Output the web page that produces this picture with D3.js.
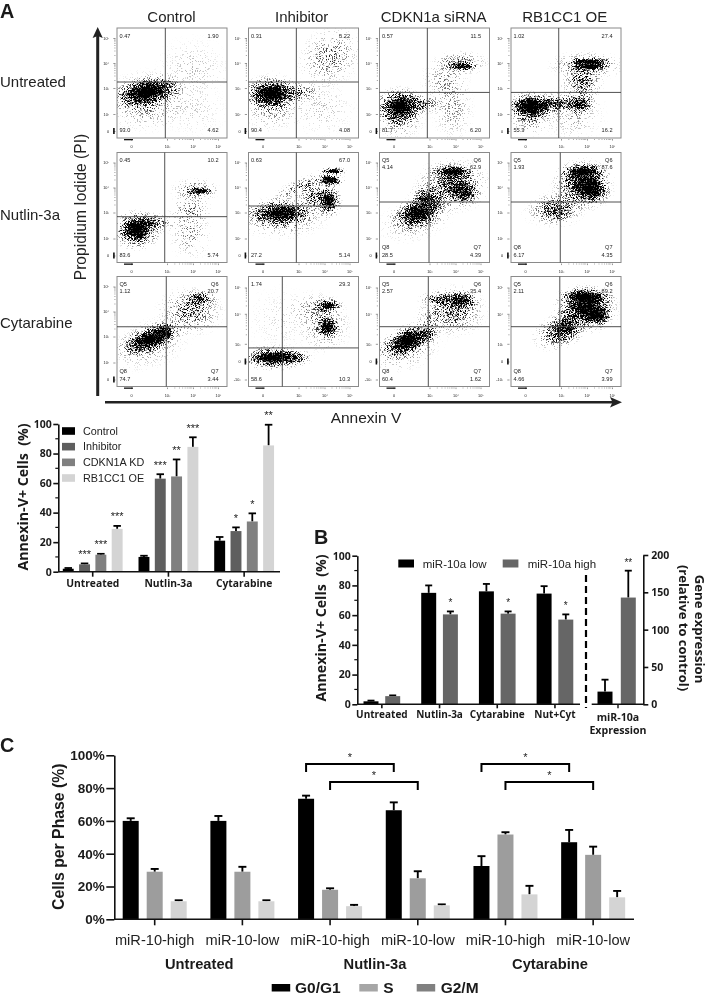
<!DOCTYPE html>
<html><head><meta charset="utf-8">
<script src="https://cdn.jsdelivr.net/npm/d3@7"></script>
<style>
html,body{margin:0;padding:0;background:#fff}
svg{display:block;filter:blur(.35px)}
text{font-family:"Liberation Sans",Arial,sans-serif;fill:#222}
.ob{font-family:"Open Sans",sans-serif;font-weight:700;fill:#1a1a1a}
.lb{font-family:"Liberation Sans",Arial,sans-serif;font-weight:700;fill:#1a1a1a}
</style></head><body><svg id="c" width="707" height="996"></svg>
<script>
// ---------- Panel A flow cytometry data ----------
const flowCols = ["Control","Inhibitor","CDKN1a siRNA","RB1CC1 OE"];
const flowRows = ["Untreated","Nutlin-3a","Cytarabine"];
const quadUL = [["0.47","0.31","0.57","1.02"],["0.45","0.63","4.14","1.93"],["1.12","1.74","2.57","2.11"]];
const quadUR = [["1.90","5.22","11.5","27.4"],["10.2","67.0","62.9","87.6"],["20.7","29.3","35.4","89.2"]];
const quadLL = [["93.0","90.4","81.7","55.3"],["83.6","27.2","28.5","6.17"],["74.7","58.6","60.4","4.66"]];
const quadLR = [["4.62","4.08","6.20","16.2"],["5.74","5.14","4.39","4.35"],["3.44","10.3","1.62","3.99"]];
const showQ  = [[0,0,0,0],[0,0,1,1],[1,0,1,1]];
const altAxis= [[0,0,0,0],[0,0,0,0],[0,1,1,1]];
// gates in decade units (x, then y)
const gateX = [[2.86,2.82,2.82,2.81],[2.81,2.82,2.96,2.94],[2.94,1.65,2.9,2.9]];
const gateY = [[3.24,3.24,2.83,2.83],[2.84,3.26,3.42,3.42],[3.39,2.3,3.57,3.57]];
// population clouds: [x, y, spreadX, spreadY, tilt, density] in decade units
const flowClouds = [
 [
  [[1.3,2.85,1.25,.55,-12,1],[1.2,2.5,1.4,1.05,0,.32],[3.0,2.95,.7,.4,0,.28],[4.0,3.8,1.3,1.1,0,.1],[4.0,2.2,1.2,1,0,.08]],
  [[.77,2.8,1.05,.58,0,1],[.8,2.45,1.1,1,0,.32],[3.1,2.85,.75,.35,0,.34],[4.22,4.25,1.2,1,-40,.3],[3.9,2.2,1.2,1,0,.1]],
  [[.5,2.3,.85,.65,0,1],[.5,1.9,.9,.9,0,.35],[2.4,2.4,.8,.35,0,.38],[4.3,3.85,.55,.14,0,.85],[4.2,4,.95,.42,0,.42],[3.6,3.3,.85,.75,0,.22],[3.9,2.2,.75,1.1,0,.2]],
  [[.42,2.3,.85,.5,0,1],[2.5,2.4,1,.38,0,.62],[3.75,2.4,.55,.42,0,.72],[.5,2,.85,.75,0,.38],[4.12,4.05,.8,.16,0,1],[4.12,3.85,.7,.14,0,1],[4,3.9,1.3,.5,0,.42],[3.8,3.2,.75,.62,0,.5],[3.5,2,1.1,1,0,.16]]
 ],[
  [[.47,2.33,.85,.68,0,1],[1.7,2.6,.9,.35,0,.5],[4.28,3.86,.55,.14,0,.8],[4.1,3.9,.85,.42,0,.36],[3.9,3.1,.75,.62,0,.26],[3.9,2.2,.75,.95,0,.22]],
  [[1.46,2.97,1.25,.5,0,.88],[1.6,2.8,1.6,.72,0,.32],[4.35,4.66,.48,.14,0,1],[4.22,4.3,.52,.25,0,1],[4.15,3.46,.48,.6,0,.9],[3.06,4.03,1.2,.3,-25,.34],[3.6,3.65,.62,.62,0,.42]],
  [[2.07,3,1,.55,-20,.88],[2,2.8,1.35,.75,-20,.32],[3.9,4.63,.8,.27,0,.95],[3.9,4.1,1.25,.92,0,.62],[4.38,3.77,.52,.42,0,.72],[2.75,3.58,.62,.52,0,.58]],
  [[2.65,3.13,.95,.6,0,.55],[3.85,4.63,.85,.32,0,1],[3.85,4.1,1.05,.88,0,.82],[4.25,3.9,.58,.52,0,.82],[1.8,3,.9,.5,0,.12]]
 ],[
  [[1.58,2.9,1.2,.48,-20,1],[2.7,3.17,.42,.38,0,.72],[1.6,2.7,1.45,.85,-20,.22],[4.28,4.5,.62,.32,0,.58],[3.9,4,1.15,.85,0,.42]],
  [[.9,.63,1.15,.42,0,1],[2.7,.65,.65,.3,0,.5],[4.15,4.32,.52,.27,0,.88],[4.14,3.55,.44,.42,0,.92],[3.6,4.2,1,.62,0,.2],[4,3.6,.95,.95,0,.26],[1.5,3.8,1.3,1.2,0,.06]],
  [[1.14,3.11,1.05,.5,-25,1],[1.1,2.3,1.35,.75,-20,.28],[2.8,3.33,.42,.38,0,.42],[4.27,4.5,.62,.38,0,.72],[3.5,4.57,.85,.27,0,.52],[3.9,4.1,1.15,.88,0,.46],[3,3.8,.52,.52,0,.22]],
  [[2.83,3.39,.95,.6,-20,.55],[3.96,4.63,1,.37,0,1],[3.96,4.19,1.1,.82,0,.88],[4.43,3.95,.52,.42,0,.95],[3.2,3.6,.62,.62,0,.6]]
 ]
];
const flowXTicks = [0,3,4,5];
const flowXLabels = ["0","10³","10⁴","10⁵"];
const flowYTicks = [0,2,3,4,5];
const flowYLabels = ["0","10²","10³","10⁴","10⁵"];
const flowYTicksAlt = [-1,0,3,4,5];
const flowYLabelsAlt = ["-10³","0","10³","10⁴","10⁵"];
const decadeMinor = [.3,.48,.6,.7,.78,.85,.9,.95];

// ---------- Panel A bars ----------
const aGroups = ["Untreated","Nutlin-3a","Cytarabine"];
const aSeries = ["Control","Inhibitor","CDKN1A KD","RB1CC1 OE"];
const aColors = ["#000000","#5f5f5f","#808080","#d4d4d4"];
const aValues = [[2,10,21],[5,63,27.5],[11.5,64.5,34],[29,84.5,85.5]];
const aErrors = [[.5,.8,2.5],[.6,3,2.5],[.6,11.5,5.5],[2,6.5,14]];
const aStars  = [["","",""],["***","***","*"],["***","**","*"],["***","***","**"]];
const aYTicks = [0,20,40,60,80,100];

// ---------- Panel B bars ----------
const bGroups = ["Untreated","Nutlin-3a","Cytarabine","Nut+Cyt"];
const bSeries = ["miR-10a low","miR-10a high"];
const bColors = ["#000000","#666666"];
const bValues = [[2,75,76,74.5],[5.5,60.5,61,57]];
const bErrors = [[.5,5,5,5],[.5,2,1.5,3.5]];
const bStars  = [["","","",""],["","*","*","*"]];
const bExprValues = [17,143];
const bExprErrors = [16,36];
const bExprStars = ["","**"];
const bYTicks = [0,20,40,60,80,100];
const bY2Ticks = [0,50,100,150,200];

// ---------- Panel C bars ----------
const cGroups = ["Untreated|high","Untreated|low","Nutlin|high","Nutlin|low","Cytarabine|high","Cytarabine|low"];
const cLabels = ["miR-10-high","miR-10-low","miR-10-high","miR-10-low","miR-10-high","miR-10-low"];
const cSeries = ["G0/G1","S","G2/M"];
const cColors = ["#000000","#9d9d9d","#d4d4d4"];
const cLegendColors = ["#000000","#a6a6a6","#808080"];
const cValues = [[60,60,73.5,66.5,32.5,47],[29,29,18,25,51.7,39.3],[11,11,8,8.5,15.2,13.4]];
const cErrors = [[1.6,3,1.9,4.8,6,7.5],[1.7,3,.9,4.3,1.4,5],[.6,.6,.8,.6,5.2,3.9]];
const cYTicks = [0,20,40,60,80,100];
const cBrackets = [[2,3,0],[2,3,1],[4,5,0],[4,5,1]]; // from group, to group, level
const cSections = ["Untreated","Nutlin-3a","Cytarabine"];

// ---------- Drawing ----------
const svg = d3.select("#c");
const defs = svg.append("defs");
const grad = defs.append("radialGradient").attr("id","blob");
d3.range(0,1.001,.1).forEach(r=>{
  const a=Math.max(0,(Math.exp(-r*r/(2*.4*.4))-Math.exp(-1/(2*.4*.4)))/(1-Math.exp(-1/(2*.4*.4))));
  grad.append("stop").attr("offset",r).attr("stop-color","#000").attr("stop-opacity",a);
});

const colX=[117,248.5,379.5,511], rowY=[28,152.5,276.5], boxW=110, boxH=110;
const fx = d3.scaleLinear().domain([0,3,4,5]).range([14,50,76,101]);
const fy = d3.scaleLinear().domain([0,2,3,4,5]).range([103,86,60,35,10]);
const fyAlt = d3.scaleLinear().domain([-1,0,3,4,5]).range([103,85,67.3,37.3,11]);
const decadePx = 25*1.3;

flowRows.forEach((rowName,r)=>{
 flowCols.forEach((colName,c)=>{
  const id=`p${r}${c}`, alt=altAxis[r][c], Y=alt?fyAlt:fy;
  const g=svg.append("g").attr("transform",`translate(${colX[c]},${rowY[r]})`);
  defs.append("clipPath").attr("id","clip"+id).append("rect").attr("width",boxW).attr("height",boxH);
  const f=defs.append("filter").attr("id","f"+id).attr("filterUnits","userSpaceOnUse").attr("x",0).attr("y",0).attr("width",boxW).attr("height",boxH).attr("color-interpolation-filters","sRGB");
  f.append("feTurbulence").attr("type","fractalNoise").attr("baseFrequency",1.6).attr("numOctaves",1).attr("seed",3+r*4+c).attr("result","n");
  f.append("feColorMatrix").attr("in","n").attr("type","matrix").attr("values","0 0 0 0 0  0 0 0 0 0  0 0 0 0 0  3.4 0 0 0 -1.2").attr("result","na");
  f.append("feComposite").attr("in","SourceAlpha").attr("in2","na").attr("operator","arithmetic").attr("k1",0).attr("k2",1.55).attr("k3",1).attr("k4",-1).attr("result","m");
  const tr=f.append("feComponentTransfer").attr("in","m").attr("result","h");
  tr.append("feFuncA").attr("type","linear").attr("slope",1.9).attr("intercept",0);
  f.append("feGaussianBlur").attr("in","h").attr("stdDeviation",.2);
  g.append("g").attr("clip-path",`url(#clip${id})`).append("g").attr("filter",`url(#f${id})`)
   .selectAll("ellipse").data(flowClouds[r][c]).join("ellipse")
   .attr("rx",d=>d[2]*decadePx).attr("ry",d=>d[3]*decadePx)
   .attr("transform",d=>`translate(${fx(d[0])},${Y(d[1])}) rotate(${d[4]})`)
   .attr("fill","url(#blob)").attr("fill-opacity",d=>d[5]);
  g.append("rect").attr("width",boxW).attr("height",boxH).attr("fill","none").attr("stroke","#8a8a8a").attr("stroke-width",1);
  g.append("line").attr("x1",fx(gateX[r][c])).attr("x2",fx(gateX[r][c])).attr("y1",0).attr("y2",boxH).attr("stroke","#3c3c3c").attr("stroke-width",.9);
  g.append("line").attr("x1",0).attr("x2",boxW).attr("y1",Y(gateY[r][c])).attr("y2",Y(gateY[r][c])).attr("stroke","#3c3c3c").attr("stroke-width",.9);
  // quadrant text
  const qt=(t,x,y,a)=>g.append("text").attr("x",x).attr("y",y).attr("text-anchor",a).attr("font-size",5.6).attr("fill","#333").text(t);
  if(showQ[r][c]){qt("Q5",2.5,9.5,"start");qt("Q6",101.5,9.5,"end");qt("Q8",2.5,96,"start");qt("Q7",101.5,96,"end");}
  const up=showQ[r][c]?16.5:9.5;
  qt(quadUL[r][c],2.5,up,"start");
  qt(quadUR[r][c],101.5,up,"end").attr("paint-order","stroke").attr("stroke","#fff").attr("stroke-width",showQ[r][c]?1.4:0);
  qt(quadLL[r][c],2.5,104,"start");
  qt(quadLR[r][c],101.5,104,"end");
  // axes
  const ax=g.append("g").attr("transform",`translate(0,${boxH+1})`);
  ax.call(d3.axisBottom(fx).tickValues(flowXTicks).tickSize(1.6).tickFormat((d,i)=>flowXLabels[i]));
  const ay=g.append("g").attr("transform","translate(-1.5,0)");
  const yt=alt?flowYTicksAlt:flowYTicks, yl=alt?flowYLabelsAlt:flowYLabels;
  ay.call(d3.axisLeft(Y).tickValues(yt).tickSize(2.2).tickFormat((d,i)=>yl[i]));
  [ax,ay].forEach(a=>{a.selectAll(".domain").remove();a.selectAll("line").attr("stroke","#333").attr("stroke-width",.5);
    a.selectAll("text").attr("font-size",3.8).attr("fill","#555").attr("font-family","Liberation Sans");});
  ax.selectAll("text").attr("dy",4.6);
  ay.selectAll("text").attr("dx",-1.2);
  const minorX=[3,4].flatMap(b=>decadeMinor.map(m=>b+m));
  ax.selectAll("line.m").data(minorX).join("line").attr("class","m").attr("x1",d=>fx(d)).attr("x2",d=>fx(d)).attr("y2",1).attr("stroke","#444").attr("stroke-width",.45);
  const minorY=[3,4].flatMap(b=>decadeMinor.map(m=>b+m));
  ay.selectAll("line.m").data(minorY).join("line").attr("class","m").attr("y1",d=>Y(d)).attr("y2",d=>Y(d)).attr("x2",-1.2).attr("stroke","#444").attr("stroke-width",.45);
  // dense near-zero tick clusters
  ax.append("rect").attr("x",fx(0)-7).attr("width",9).attr("height",1.3).attr("fill","#111");
  ay.append("rect").attr("x",-2.4).attr("y",Y(0)-3).attr("width",1.6).attr("height",6).attr("fill","#111");
 });
});

// flow headers and axes arrows
const hdrX=[171.5,301.7,433.7,564.7];
flowCols.forEach((t,i)=>svg.append("text").attr("x",hdrX[i]).attr("y",21.5).attr("text-anchor","middle").attr("font-size",15).text(t));
[87,220,328].forEach((y,i)=>svg.append("text").attr("x",0).attr("y",y).attr("font-size",15).text(flowRows[i]));
svg.append("text").attr("transform","translate(85.5,207) rotate(-90)").attr("text-anchor","middle").attr("font-size",15.6).text("Propidium Iodide (PI)");
svg.append("text").attr("x",366).attr("y",422.5).attr("text-anchor","middle").attr("font-size",15.5).text("Annexin V");
svg.append("line").attr("x1",97.7).attr("x2",97.7).attr("y1",396).attr("y2",34).attr("stroke","#222").attr("stroke-width",3);
svg.append("path").attr("d","M97.7 27 L102.8 38 L97.7 36 L92.6 38 Z").attr("fill","#222");
svg.append("line").attr("x1",105).attr("x2",614).attr("y1",402.3).attr("y2",402.3).attr("stroke","#222").attr("stroke-width",2.6);
svg.append("path").attr("d","M622 402.3 L610 397 L612.5 402.3 L610 407.6 Z").attr("fill","#222");

// panel letters
[["A",0,18],["B",314,544],["C",0,752]].forEach(d=>svg.append("text").attr("class","lb").attr("x",d[1]).attr("y",d[2]).attr("font-size",19.8).attr("fill","#000").text(d[0]));

// generic grouped bars
function groupedBars(g,opts){
 const {groups,series,colors,values,errors,outer,inner,y,barK,cap,stars,ew}=opts;
 const bw=inner.bandwidth()*barK;
 series.forEach((s,si)=>{
  const cx=i=>outer(groups[i])+inner(s)+inner.bandwidth()/2;
  const rows=values[si].map((v,i)=>({v,e:errors[si][i],x:cx(i),st:stars?stars[si][i]:""}));
  const sg=g.append("g").attr("class","s"+si);
  sg.selectAll("line.stem").data(rows).join("line").attr("class","stem").attr("x1",d=>d.x).attr("x2",d=>d.x).attr("y1",d=>y(d.v)).attr("y2",d=>y(d.v+d.e)).attr("stroke","#000").attr("stroke-width",ew);
  sg.selectAll("line.cap").data(rows).join("line").attr("class","cap").attr("x1",d=>d.x-cap/2).attr("x2",d=>d.x+cap/2).attr("y1",d=>y(d.v+d.e)).attr("y2",d=>y(d.v+d.e)).attr("stroke","#000").attr("stroke-width",ew);
  sg.selectAll("rect").data(rows).join("rect").attr("x",d=>d.x-bw/2).attr("width",bw).attr("y",d=>y(d.v)).attr("height",d=>y(0)-y(d.v)).attr("fill",colors[si]);
  if(stars) sg.selectAll("text").data(rows.filter(d=>d.st)).join("text").attr("x",d=>d.x).attr("y",d=>y(d.v+d.e)-5.5).attr("text-anchor","middle").attr("font-size",opts.starSize||11).attr("fill","#333").attr("font-family","DejaVu Sans").text(d=>d.st);
 });
}
function styleAxis(a,sw,fs,cls){
 a.selectAll(".domain").attr("stroke","#111").attr("stroke-width",sw);
 a.selectAll("line").attr("stroke","#111").attr("stroke-width",sw);
 a.selectAll("text").attr("class",cls).attr("font-size",fs);
}

// Panel A chart
{
 const g=svg.append("g");
 const y=d3.scaleLinear().domain([0,100]).range([571.7,424]);
 const outer=d3.scaleBand().domain(aGroups).range([54.85,282]);
 const inner=d3.scaleBand().domain(aSeries).range([5.25,outer.bandwidth()-5.25]);
 groupedBars(g,{groups:aGroups,series:aSeries,colors:aColors,values:aValues,errors:aErrors,outer,inner,y,barK:.67,cap:7.5,stars:aStars,ew:1.8});
 const ax=g.append("g").attr("transform",`translate(0,${y(0)})`).call(d3.axisBottom(outer).tickSize(5).tickSizeOuter(0).tickPadding(2.5));
 ax.select(".domain").attr("d",`M58.3,0H280`);
 styleAxis(ax,1.6,10.3,"ob");
 const ay=g.append("g").attr("transform","translate(58.3,0)").call(d3.axisLeft(y).tickValues(aYTicks).tickSize(5).tickSizeOuter(0).tickPadding(1.5));
 styleAxis(ay,1.6,10.5,"ob");
 g.append("g").attr("transform","translate(58.3,0)").selectAll("line").data(d3.range(10,100,20)).join("line").attr("x2",-3).attr("y1",d=>y(d)).attr("y2",d=>y(d)).attr("stroke","#111").attr("stroke-width",1.2);
 g.append("text").attr("class","ob").attr("transform","translate(27.5,497) rotate(-90)").attr("text-anchor","middle").attr("font-size",14.2).attr("xml:space","preserve").text("Annexin-V+ Cells  (%)");
 const ly=d3.scalePoint().domain(aSeries).range([431,478]);
 aSeries.forEach((s,i)=>{
  g.append("rect").attr("x",62).attr("y",ly(s)-3.8).attr("width",13).attr("height",7.6).attr("fill",aColors[i]);
  g.append("text").attr("x",83).attr("y",ly(s)+3.8).attr("font-size",10.8).attr("fill","#333").text(s);
 });
}

// Panel B chart
{
 const g=svg.append("g");
 const y=d3.scaleLinear().domain([0,100]).range([704.3,555.7]);
 const outer=d3.scaleBand().domain(bGroups).range([353,583.8]);
 const inner=d3.scaleBand().domain(bSeries).range([7.15,outer.bandwidth()-7.15]);
 groupedBars(g,{groups:bGroups,series:bSeries,colors:bColors,values:bValues,errors:bErrors,outer,inner,y,barK:.69,cap:7,stars:bStars,ew:1.8,starSize:10});
 const ax=g.append("g").attr("transform",`translate(0,${y(0)})`).call(d3.axisBottom(outer).tickSize(4).tickSizeOuter(0).tickPadding(3));
 ax.select(".domain").attr("d","M357.3,0H580");
 styleAxis(ax,1.6,10,"ob");
 const ay=g.append("g").attr("transform","translate(357.3,0)").call(d3.axisLeft(y).tickValues(bYTicks).tickSize(5).tickSizeOuter(0).tickPadding(1.5));
 styleAxis(ay,1.6,10.5,"ob");
 g.append("g").attr("transform","translate(357.3,0)").selectAll("line").data(d3.range(10,100,20)).join("line").attr("x2",-3).attr("y1",d=>y(d)).attr("y2",d=>y(d)).attr("stroke","#111").attr("stroke-width",1.2);
 g.append("text").attr("class","ob").attr("transform","translate(326,628) rotate(-90)").attr("text-anchor","middle").attr("font-size",14.2).attr("xml:space","preserve").text("Annexin-V+ Cells  (%)");
 g.append("line").attr("x1",586).attr("x2",586).attr("y1",575).attr("y2",708).attr("stroke","#000").attr("stroke-width",2.2).attr("stroke-dasharray","7,4");
 // miR-10a expression inset
 const y2=d3.scaleLinear().domain([0,200]).range([704.3,555]);
 const x2=d3.scaleBand().domain(bSeries).range([593.35,639.95]);
 const cx=s=>x2(s)+x2.bandwidth()/2, bw=15;
 bSeries.forEach((s,i)=>{
  const top=y2(bExprValues[i]+bExprErrors[i]);
  g.append("line").attr("x1",cx(s)).attr("x2",cx(s)).attr("y1",y2(bExprValues[i])).attr("y2",top).attr("stroke","#000").attr("stroke-width",1.8);
  g.append("line").attr("x1",cx(s)-3.5).attr("x2",cx(s)+3.5).attr("y1",top).attr("y2",top).attr("stroke","#000").attr("stroke-width",1.8);
  g.append("rect").attr("x",cx(s)-bw/2).attr("width",bw).attr("y",y2(bExprValues[i])).attr("height",y2(0)-y2(bExprValues[i])).attr("fill",bColors[i]);
  if(bExprStars[i]) g.append("text").attr("x",cx(s)).attr("y",top-4.5).attr("text-anchor","middle").attr("font-size",10).attr("fill","#333").attr("font-family","DejaVu Sans").text(bExprStars[i]);
 });
 g.append("line").attr("x1",591.7).attr("x2",643.3).attr("y1",y2(0)).attr("y2",y2(0)).attr("stroke","#111").attr("stroke-width",1.6);
 const ay2=g.append("g").attr("transform","translate(643.3,0)").call(d3.axisRight(y2).tickValues(bY2Ticks).tickSize(5).tickSizeOuter(0).tickPadding(3));
 styleAxis(ay2,1.6,10.5,"ob");
 g.append("line").attr("x1",618).attr("x2",618).attr("y1",y2(0)).attr("y2",y2(0)+4).attr("stroke","#111").attr("stroke-width",1.4);
 g.append("text").attr("class","ob").attr("x",618).attr("y",720.5).attr("text-anchor","middle").attr("font-size",10.6).text("miR-10a");
 g.append("text").attr("class","ob").attr("x",618).attr("y",733.5).attr("text-anchor","middle").attr("font-size",10.6).text("Expression");
 g.append("text").attr("class","ob").attr("transform","translate(694.5,629) rotate(90)").attr("text-anchor","middle").attr("font-size",13.2).text("Gene expression");
 g.append("text").attr("class","ob").attr("transform","translate(679,628) rotate(90)").attr("text-anchor","middle").attr("font-size",13).text("(relative to control)");
 [[398.3,422.7],[502.7,527.7]].forEach((p,i)=>{
  g.append("rect").attr("x",p[0]).attr("y",559.5).attr("width",15.7).attr("height",8).attr("fill",bColors[i]);
  g.append("text").attr("x",p[1]).attr("y",568).attr("font-size",11.5).attr("fill","#333").text(bSeries[i]);
 });
}

// Panel C chart
{
 const g=svg.append("g");
 const y=d3.scaleLinear().domain([0,100]).range([919.3,755.3]);
 const outer=d3.scaleBand().domain(cGroups).range([110.85,637]);
 const inner=d3.scaleBand().domain(cSeries).range([7.85,outer.bandwidth()-7.85]);
 groupedBars(g,{groups:cGroups,series:cSeries,colors:cColors,values:cValues,errors:cErrors,outer,inner,y,barK:.667,cap:8,ew:1.9});
 const ax=g.append("g").attr("transform",`translate(0,${y(0)})`).call(d3.axisBottom(outer).tickSize(6).tickSizeOuter(0).tickPadding(9).tickFormat((d,i)=>cLabels[i]));
 ax.select(".domain").attr("d","M114.3,0H634");
 ax.selectAll(".domain,line").attr("stroke","#111").attr("stroke-width",1.6);
 ax.selectAll("text").attr("font-size",14.6).attr("fill","#333");
 const ay=g.append("g").attr("transform","translate(114.3,0)").call(d3.axisLeft(y).tickValues(cYTicks).tickSize(8).tickSizeOuter(0).tickPadding(1.5).tickFormat(d=>d+"%"));
 styleAxis(ay,1.6,13.5,"lb");
 g.append("text").attr("class","lb").attr("transform","translate(63.5,836.7) rotate(-90)").attr("text-anchor","middle").attr("font-size",15.8).text("Cells per Phase (%)");
 // significance brackets
 const tickX=i=>outer(cGroups[i])+outer.bandwidth()/2;
 const seriesStep=inner.step();
 cBrackets.forEach(b=>{
  const lvl=b[2], dx=lvl?0:-seriesStep;
  const x1=tickX(b[0])+dx, x2=tickX(b[1])+dx, yy=lvl?782:764;
  g.append("path").attr("d",`M${x1},${yy+8}V${yy}H${x2}V${yy+8}`).attr("fill","none").attr("stroke","#000").attr("stroke-width",2);
  g.append("text").attr("x",(x1+x2)/2).attr("y",yy-3.5).attr("text-anchor","middle").attr("font-size",11).attr("fill","#333").attr("font-family","DejaVu Sans").text("*");
 });
 const secX=[199.3,375,550];
 cSections.forEach((s,i)=>g.append("text").attr("class","lb").attr("x",secX[i]).attr("y",969).attr("text-anchor","middle").attr("font-size",14.7).text(s));
 const lx=[[271.7,295],[359.3,383.3],[416.7,440.7]];
 cSeries.forEach((s,i)=>{
  g.append("rect").attr("x",lx[i][0]).attr("y",984).attr("width",18.5).attr("height",7.5).attr("fill",cLegendColors[i]);
  g.append("text").attr("class","lb").attr("x",lx[i][1]).attr("y",992.6).attr("font-size",15.5).text(s);
 });
}
</script></body></html>
